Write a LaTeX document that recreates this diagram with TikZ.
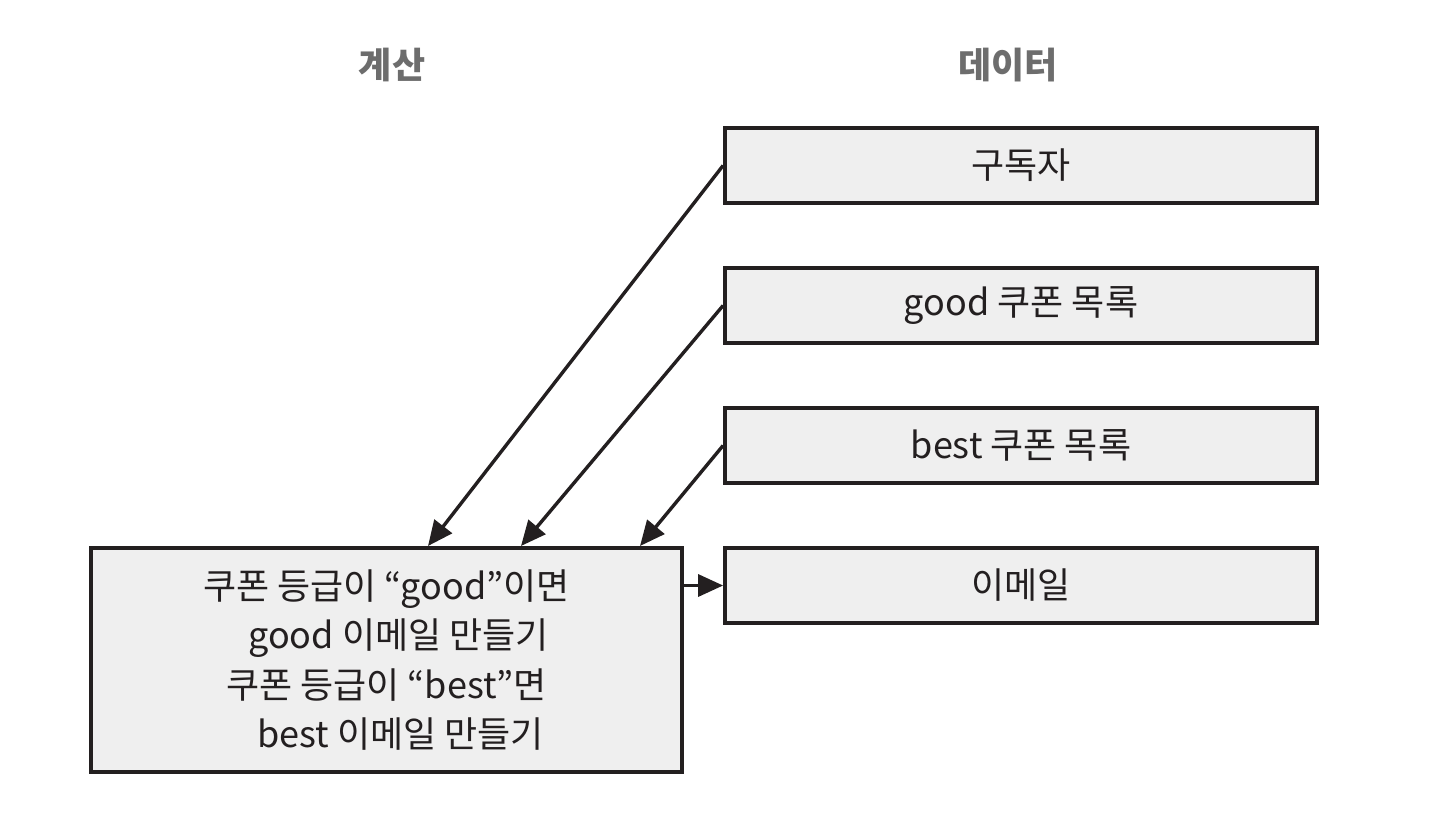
\documentclass[tikz,border=0pt]{standalone}
\usepackage{fontspec}
\setmainfont{Noto Sans CJK KR}
\usetikzlibrary{arrows.meta}
\definecolor{boxfill}{HTML}{EFEFEF}
\definecolor{edge}{HTML}{231F20}
\definecolor{headgray}{HTML}{6D6D6D}
\begin{document}
\begin{tikzpicture}[x=1pt,y=-1pt,
  databox/.style={draw=edge,line width=3.8pt,fill=boxfill,minimum width=592pt,minimum height=75pt,inner sep=0pt,font=\fontsize{36}{42}\selectfont,text=edge},
  calcbox/.style={draw=edge,line width=3.8pt,fill=boxfill,minimum width=591pt,minimum height=224pt,inner sep=0pt,align=center,font=\fontsize{36}{49.5}\selectfont,text=edge},
  header/.style={font=\fontsize{36}{42}\selectfont\bfseries,text=headgray},
  conn/.style={draw=edge,line width=3.4pt,-{Triangle[length=25pt,width=22pt]}}]
\useasboundingbox (0,0) rectangle (1432,836);
\node[header] (hcalc) at (392,65) {계산};
\node[header] (hdata) at (1008,65) {데이터};
\node[databox] (sub) at (1021,165.5) {구독자};
\node[databox] (good) at (1021,305.5) {good 쿠폰 목록};
\node[databox] (best) at (1021,445.5) {best 쿠폰 목록};
\node[databox] (mail) at (1021,585.5) {이메일};
\node[calcbox] (calc) at (386.5,660) {쿠폰 등급이 “good”이면\\\hspace{24pt}good 이메일 만들기\\쿠폰 등급이 “best”면\\\hspace{28pt}best 이메일 만들기};
\coordinate (t1) at (428,546);
\coordinate (t2) at (521,546);
\coordinate (t3) at (640,546);
\draw[conn] (sub.west) -- (t1);
\draw[conn] (good.west) -- (t2);
\draw[conn] (best.west) -- (t3);
\draw[conn] (calc.east |- mail.west) -- (mail.west);
\end{tikzpicture}
\end{document}
